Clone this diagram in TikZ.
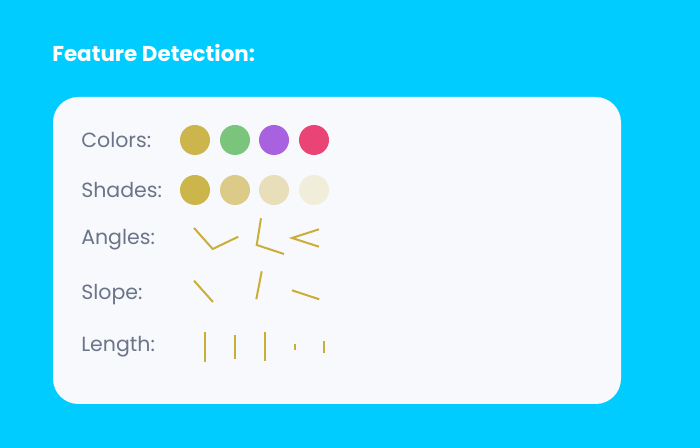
\documentclass[tikz,border=0pt]{standalone}
\usepackage{fontspec}
\setmainfont{Poppins}
\usepackage{tikz}
\usetikzlibrary{positioning}
\definecolor{skybg}{HTML}{00CCFF}
\definecolor{cardbg}{HTML}{F8F9FD}
\definecolor{labelgray}{HTML}{6B7489}
\definecolor{goldA}{HTML}{CCB64B}
\definecolor{goldB}{HTML}{DCCA88}
\definecolor{goldC}{HTML}{E8DFBA}
\definecolor{goldD}{HTML}{F1EDDB}
\definecolor{greenA}{HTML}{7AC57B}
\definecolor{purpleA}{HTML}{A862E0}
\definecolor{pinkA}{HTML}{E94475}
\definecolor{featgold}{HTML}{C9AE3A}

\begin{document}
\begin{tikzpicture}[x=0.75pt, y=-0.75pt,
    rowlabel/.style={anchor=west, inner sep=0pt, text=labelgray, font=\fontsize{15.4}{17}\selectfont},
    dot/.style={circle, minimum size=30*0.75pt, inner sep=0pt},
    feat/.style={draw=featgold, line width=1.5pt}]
            \fill[skybg] (0,0) rectangle (700,448);
            \useasboundingbox (0,0) rectangle (700,448);
            \node[anchor=west, inner sep=0pt, text=white, font=\fontsize{16.1}{18}\selectfont\bfseries] (title) at (52,53) {Feature Detection:};
            
            % Card
            \fill[cardbg, rounded corners=19pt] (53,97) rectangle (621,404);
            
            % Row labels
            \node[rowlabel] (colors) at (81,140) {Colors:};
            \node[rowlabel] (shades) at (81,190) {Shades:};
            \node[rowlabel] (angles) at (81,240) {Angles:};
            \node[rowlabel] (slope) at (81,295) {Slope:};
            \node[rowlabel] (length) at (81,347) {Length:};
            
            % Colors row
            \node[dot, fill=goldA] (c1) at (195,140) {};
            \node[dot, fill=greenA] (c2) at (235,140) {};
            \node[dot, fill=purpleA] (c3) at (274,140) {};
            \node[dot, fill=pinkA] (c4) at (314,140) {};
            
            % Shades row
            \node[dot, fill=goldA] (s1) at (195,190) {};
            \node[dot, fill=goldB] (s2) at (235,190) {};
            \node[dot, fill=goldC] (s3) at (274,190) {};
            \node[dot, fill=goldD] (s4) at (314,190) {};
            
            % Angles row
            \draw[feat] (194,228) -- (212.7,249) -- (238.3,236.7);
            \draw[feat] (261,218.3) -- (256.7,245) -- (284,254);
            \draw[feat] (319,229.3) -- (292,238) -- (319,246.7);
            
            % Slope row
            \draw[feat] (194,280.7) -- (213,302);
            \draw[feat] (261.7,271.3) -- (256.3,299.3);
            \draw[feat] (292,290.3) -- (319.3,299.3);
            
            % Length row
            \draw[feat] (205.3,331.7) -- (205.3,361.7);
            \draw[feat] (235,335) -- (235,359);
            \draw[feat] (265,332.3) -- (265,361);
            \draw[feat] (294.7,344) -- (294.7,349.7);
            \draw[feat] (324.3,341) -- (324.3,353);
        \end{tikzpicture}
\end{document}
